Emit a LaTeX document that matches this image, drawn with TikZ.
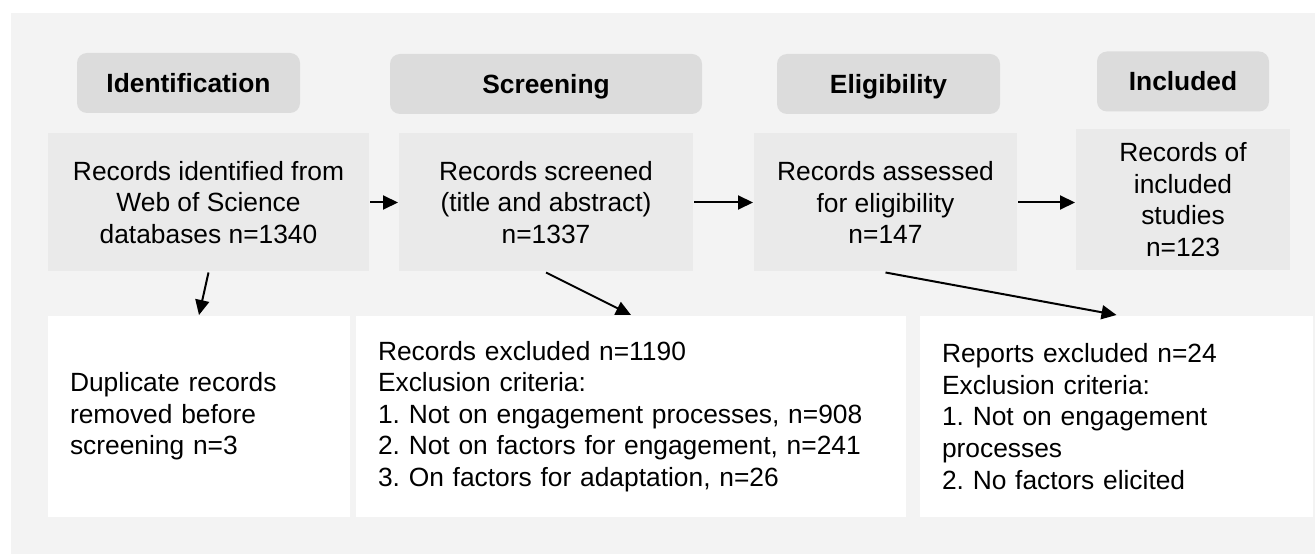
\documentclass[tikz,border=0pt]{standalone}
\usepackage{fontspec}
\setmainfont{Liberation Sans}
\usetikzlibrary{arrows.meta}
\definecolor{bggray}{HTML}{F3F3F3}
\definecolor{headgray}{HTML}{DCDCDC}
\definecolor{boxgray}{HTML}{EAEAEA}
\frenchspacing

\begin{document}
\begin{tikzpicture}[
    font=\fontsize{15}{18}\selectfont,
    phase/.style={rectangle, rounded corners=0.2cm, fill=headgray, minimum height=1.2cm, text height=10.7pt, text depth=0pt, font=\fontsize{15}{18}\selectfont\bfseries},
    stage/.style={rectangle, fill=boxgray, minimum height=2.76cm, align=center, inner sep=0pt},
    removed/.style={rectangle, fill=white, minimum height=4.02cm, align=left, inner xsep=0.44cm, inner ysep=0pt},
    >={Triangle[length=0.3cm, width=0.28cm]},
    line width=0.04cm
]
\useasboundingbox (0,0) rectangle (26.3,11.08);
% Hintergrund
\fill[bggray] (0.22,0) rectangle (26.3,10.82);

% Phasen oben
\node[phase, minimum width=4.46cm] at (3.77,9.42) (hident) {Identification};
\node[phase, minimum width=6.24cm] at (10.92,9.40) (hscreen) {Screening};
\node[phase, minimum width=4.46cm] at (17.77,9.40) (helig) {Eligibility};
\node[phase, minimum width=3.44cm] at (23.66,9.45) (hincl) {Included};

% Hauptboxen
\node[stage, minimum width=6.42cm] at (4.17,7.03) (ident) {Records identified from\\Web of Science\\databases n=1340};
\node[stage, minimum width=5.88cm] at (10.92,7.03) (screen) {Records screened\\(title and abstract)\\n=1337};
\node[stage, minimum width=5.26cm] at (17.71,7.03) (elig) {Records assessed\\for eligibility\\n=147};
\node[stage, minimum width=4.28cm, minimum height=2.82cm] at (23.66,7.09) (incl) {Records of\\included\\studies\\n=123};

% Ausgeschlossene Datensaetze
\node[removed, text width=5.16cm] at (3.98,2.75) (dup) {Duplicate records\\removed before\\screening n=3};
\node[removed, text width=10.12cm] at (12.62,2.75) (exclscr) {Records excluded n=1190\\Exclusion criteria:\\1. Not on engagement processes, n=908\\2. Not on factors for engagement, n=241\\3. On factors for adaptation, n=26};
\node[removed, text width=6.98cm] at (22.33,2.75) (exclelig) {Reports excluded n=24\\Exclusion criteria:\\1. Not on engagement\\processes\\2. No factors elicited};

% Pfeile
\draw[->] (ident.east) -- (screen.west);
\draw[->] (screen.east) -- (elig.west);
\draw[->] (elig.east) -- (elig.east -| incl.west);
\draw[->] (ident.south) -- (dup.north);
\draw[->] (screen.south) -- (exclscr.north);
\draw[->] (elig.south) -- (exclelig.north);
\end{tikzpicture}
\end{document}
